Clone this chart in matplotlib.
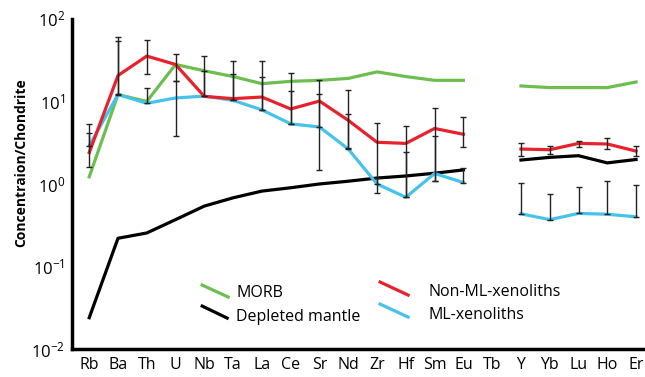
import numpy as np
import matplotlib
matplotlib.use("Agg")
import matplotlib.pyplot as plt

plt.rcParams['font.family'] = ['Open Sans', 'DejaVu Sans']
plt.rcParams['mathtext.default'] = 'regular'

elements = ["Rb", "Ba", "Th", "U", "Nb", "Ta", "La", "Ce", "Sr", "Nd",
            "Zr", "Hf", "Sm", "Eu", "Tb", "Y", "Yb", "Lu", "Ho", "Er"]
nan = np.nan
morb = [1.22, 12.1, 10.0, 28.0, 23.5, 20.0, 16.4, 17.5, 18.0, 19.0,
        22.8, 20.0, 18.0, 18.0, nan, 15.4, 14.7, 14.7, 14.7, 17.2]
depleted = [0.024, 0.22, 0.255, 0.37, 0.54, 0.68, 0.82, 0.9, 1.0, 1.08,
            1.18, 1.25, 1.35, 1.48, nan, 1.95, 2.1, 2.2, 1.8, 1.98]
non_ml = [2.4, 20.6, 35.4, 28.0, 11.5, 10.8, 11.3, 8.1, 10.1, 5.9,
          3.2, 3.1, 4.7, 4.0, nan, 2.65, 2.6, 3.1, 3.05, 2.5]
ml = [2.9, 12.1, 9.5, 11.0, 11.6, 10.3, 7.9, 5.35, 4.9, 2.65,
      1.0, 0.69, 1.34, 1.04, nan, 0.435, 0.37, 0.44, 0.43, 0.40]

non_ml_lo = [1.6, 12.2, 21.3, 17.5, 11.5, 10.5, 7.8, 5.4, 1.47, 2.7,
             0.77, 0.69, 1.1, 2.83, nan, 2.19, 2.3, 2.77, 2.65, 2.19]
non_ml_hi = [4.2, 54.0, 55.5, 38.0, 35.6, 31.0, 31.0, 22.1, 18.4, 13.6,
             5.5, 5.0, 8.3, 6.44, nan, 3.13, 2.9, 3.34, 3.61, 2.9]
ml_lo = [2.9, 12.1, 9.5, 3.8, 11.6, 10.3, 7.9, 5.35, 4.9, 2.65,
         1.0, 0.69, 1.1, 1.04, nan, 0.435, 0.37, 0.44, 0.43, 0.40]
ml_hi = [5.3, 61.0, 14.4, 17.5, 23.4, 21.2, 19.8, 13.4, 12.2, 7.1,
         1.19, 2.45, 3.8, 1.58, nan, 1.04, 0.76, 0.93, 1.09, 0.97]

x = np.arange(len(elements))

fig = plt.figure(figsize=(6.45, 3.77), dpi=100)
ax = fig.add_axes([0.112, 0.074, 0.888, 0.876])

c_green = "#6cbf4f"
c_red = "#e8222c"
c_blue = "#45c3ea"

def errs(v, lo, hi):
    v = np.array(v); lo = np.array(lo); hi = np.array(hi)
    return np.vstack([v - lo, hi - v])

ax.plot(x, morb, color=c_green, lw=2.3, zorder=2)
ax.plot(x, depleted, color="black", lw=2.3, zorder=2)
ax.plot(x, ml, color=c_blue, lw=2.3, zorder=3)
ax.plot(x, non_ml, color=c_red, lw=2.3, zorder=3)

ax.errorbar(x, non_ml, yerr=errs(non_ml, non_ml_lo, non_ml_hi), fmt='none',
            ecolor="#222222", elinewidth=1.0, capsize=2.5, capthick=1.0, zorder=4)
ax.errorbar(x, ml, yerr=errs(ml, ml_lo, ml_hi), fmt='none',
            ecolor="#222222", elinewidth=1.0, capsize=2.5, capthick=1.0, zorder=4)

ax.set_yscale('log')
ax.set_ylim(0.01, 100)
ax.set_xlim(-0.59, 19.31)
ax.set_xticks(x)
ax.set_xticklabels(elements, fontsize=11.5)
ax.set_yticks([0.01, 0.1, 1, 10, 100])
ax.set_yticklabels([r"$10^{-2}$", r"$10^{-1}$", r"$10^{0}$", r"$10^{1}$", r"$10^{2}$"], fontsize=12)
ax.yaxis.set_minor_locator(matplotlib.ticker.NullLocator())
ax.tick_params(axis='both', length=0, pad=6)
ax.tick_params(axis='y', pad=5)
for s in ["top", "right"]:
    ax.spines[s].set_visible(False)
for s in ["left", "bottom"]:
    ax.spines[s].set_linewidth(2.5)

fig.text(21 / 645.0, 1 - 163 / 377.0, "Concentraion/Chondrite", rotation=90,
         fontsize=10, fontweight='bold', ha='center', va='center')

# legend with slanted handles
def ax_xy(px, py):
    return ((px - 72) / 573.0, (349 - py) / 330.0)

legend_items = [
    ("MORB", c_green, (202, 285), (228, 297), (236, 292.7)),
    ("Depleted mantle", "black", (202, 306), (227, 318), (236, 316.7)),
    ("Non-ML-xenoliths", c_red, (380, 282), (408, 295), (428, 291.7)),
    ("ML-xenoliths", c_blue, (380, 304), (408, 317), (428, 315)),
]
for label, col, p0, p1, pt in legend_items:
    a0 = ax_xy(*p0); a1 = ax_xy(*p1); at = ax_xy(*pt)
    ax.plot([a0[0], a1[0]], [a0[1], a1[1]], color=col, lw=2.3,
            transform=ax.transAxes, clip_on=False)
    ax.text(at[0], at[1], label, transform=ax.transAxes, fontsize=11.5,
            va='center', ha='left')

fig.savefig("out.png", dpi=100)
